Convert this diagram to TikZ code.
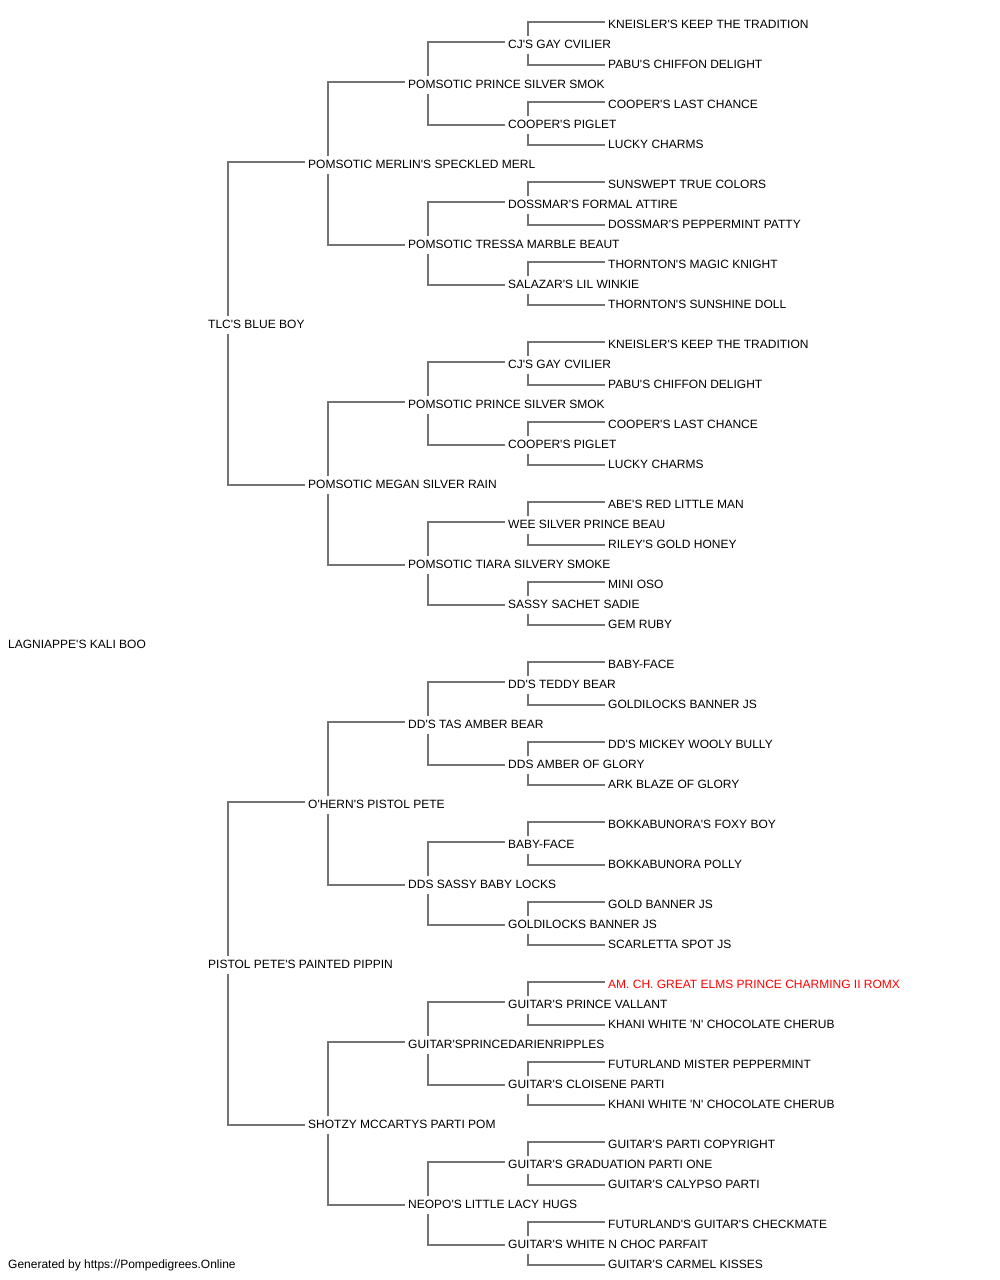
\documentclass[tikz,border=0pt]{standalone}
\usepackage{fontspec}
\setmainfont{Liberation Sans}[Ligatures=TeXOff]
\usetikzlibrary{calc}
\tikzset{
  pname/.style={anchor=base west, inner sep=0pt, font=\fontsize{12}{14}\selectfont, text=black},
  link/.style={draw=black!55, line width=1.3pt}
}
\begin{document}
\begin{tikzpicture}[x=1pt,y=-1pt]
\useasboundingbox[fill=white] (0,0) rectangle (1000,1280);
\node[pname] (root) at (8,648) {LAGNIAPPE'S KALI BOO};
\foreach \t [count=\i from 0] in {{TLC'S BLUE BOY},{PISTOL PETE'S PAINTED PIPPIN}}{
  \pgfmathsetmacro\yy{324+640*\i+4}
  \node[pname] (g1-\i) at (208,\yy) {\t};
}
\foreach \t [count=\i from 0] in {{POMSOTIC MERLIN'S SPECKLED MERL},{POMSOTIC MEGAN SILVER RAIN},{O'HERN'S PISTOL PETE},{SHOTZY MCCARTYS PARTI POM}}{
  \pgfmathsetmacro\yy{164+320*\i+4}
  \node[pname] (g2-\i) at (308,\yy) {\t};
}
\foreach \t [count=\i from 0] in {{POMSOTIC PRINCE SILVER SMOK},{POMSOTIC TRESSA MARBLE BEAUT},{POMSOTIC PRINCE SILVER SMOK},{POMSOTIC TIARA SILVERY SMOKE},{DD'S TAS AMBER BEAR},{DDS SASSY BABY LOCKS},{GUITAR'SPRINCEDARIENRIPPLES},{NEOPO'S LITTLE LACY HUGS}}{
  \pgfmathsetmacro\yy{84+160*\i+4}
  \node[pname] (g3-\i) at (408,\yy) {\t};
}
\foreach \t [count=\i from 0] in {{CJ'S GAY CVILIER},{COOPER'S PIGLET},{DOSSMAR'S FORMAL ATTIRE},{SALAZAR'S LIL WINKIE},{CJ'S GAY CVILIER},{COOPER'S PIGLET},{WEE SILVER PRINCE BEAU},{SASSY SACHET SADIE},{DD'S TEDDY BEAR},{DDS AMBER OF GLORY},{BABY-FACE},{GOLDILOCKS BANNER JS},{GUITAR'S PRINCE VALLANT},{GUITAR'S CLOISENE PARTI},{GUITAR'S GRADUATION PARTI ONE},{GUITAR'S WHITE N CHOC PARFAIT}}{
  \pgfmathsetmacro\yy{44+80*\i+4}
  \node[pname] (g4-\i) at (508,\yy) {\t};
}
\foreach \t [count=\i from 0] in {{KNEISLER'S KEEP THE TRADITION},{PABU'S CHIFFON DELIGHT},{COOPER'S LAST CHANCE},{LUCKY CHARMS},{SUNSWEPT TRUE COLORS},{DOSSMAR'S PEPPERMINT PATTY},{THORNTON'S MAGIC KNIGHT},{THORNTON'S SUNSHINE DOLL},{KNEISLER'S KEEP THE TRADITION},{PABU'S CHIFFON DELIGHT},{COOPER'S LAST CHANCE},{LUCKY CHARMS},{ABE'S RED LITTLE MAN},{RILEY'S GOLD HONEY},{MINI OSO},{GEM RUBY},{BABY-FACE},{GOLDILOCKS BANNER JS},{DD'S MICKEY WOOLY BULLY},{ARK BLAZE OF GLORY},{BOKKABUNORA'S FOXY BOY},{BOKKABUNORA POLLY},{GOLD BANNER JS},{SCARLETTA SPOT JS},{\textcolor{red}{AM. CH. GREAT ELMS PRINCE CHARMING II ROMX}},{KHANI WHITE 'N' CHOCOLATE CHERUB},{FUTURLAND MISTER PEPPERMINT},{KHANI WHITE 'N' CHOCOLATE CHERUB},{GUITAR'S PARTI COPYRIGHT},{GUITAR'S CALYPSO PARTI},{FUTURLAND'S GUITAR'S CHECKMATE},{GUITAR'S CARMEL KISSES}}{
  \pgfmathsetmacro\yy{24+40*\i+4}
  \node[pname] (g5-\i) at (608,\yy) {\t};
}
\node[pname] (footer) at (8,1268) {Generated by https://Pompedigrees.Online};
\foreach \g/\c/\n in {1/2/1,2/3/3,3/4/7,4/5/15}{
  \foreach \k in {0,...,\n}{
    \pgfmathtruncatemacro\a{2*\k}
    \pgfmathtruncatemacro\b{2*\k+1}
    \draw[link] ($(g\g-\k.base west)+(20,-12)$) |- ($(g\c-\a.base west)+(-3,-6)$);
    \draw[link] ($(g\g-\k.base west)+(20,6)$) |- ($(g\c-\b.base west)+(-3,-3)$);
  }
}
\end{tikzpicture}
\end{document}
